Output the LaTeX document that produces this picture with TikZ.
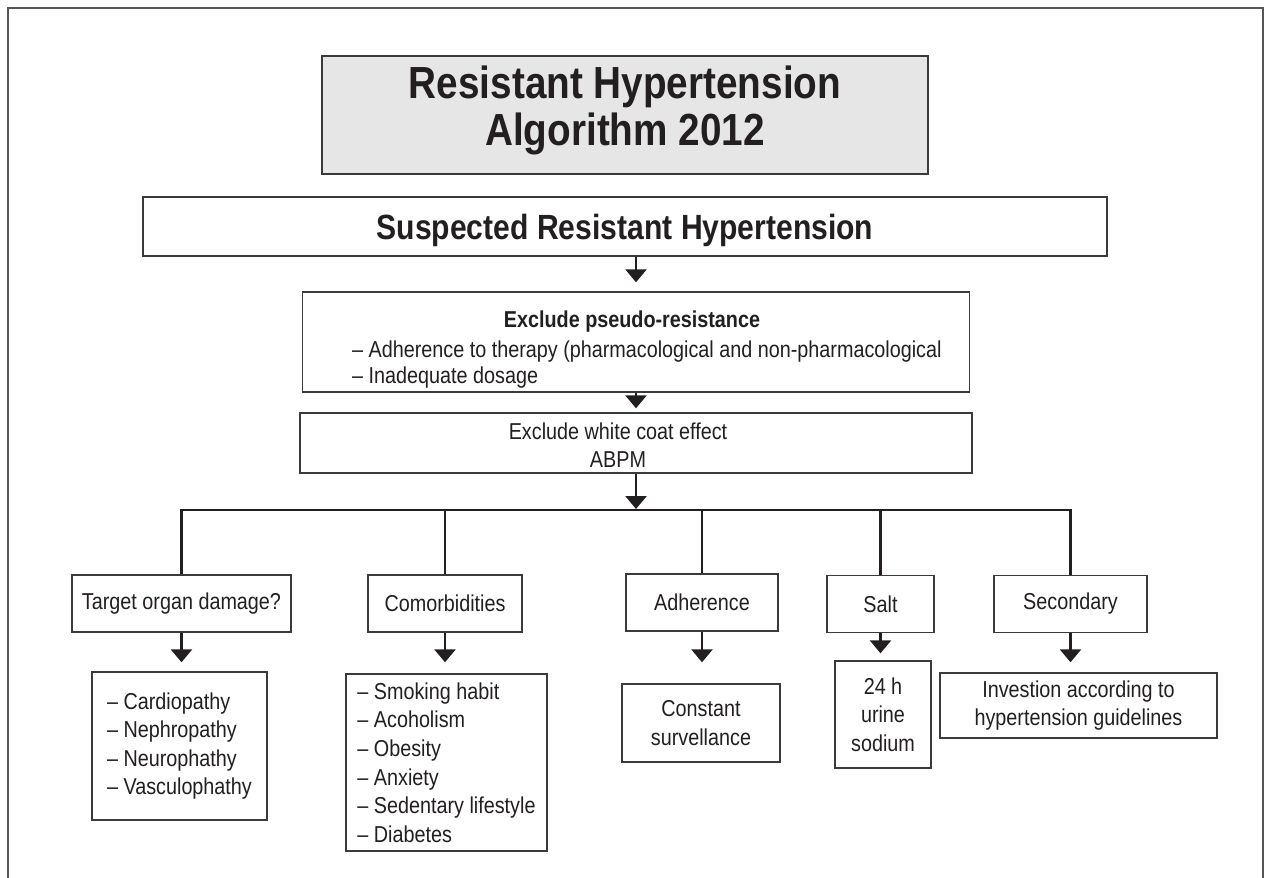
\documentclass[tikz,border=0pt]{standalone}
\usepackage{fontspec}
\setmainfont{Liberation Sans}[FakeStretch=0.86]
\usetikzlibrary{arrows.meta}
\definecolor{ink}{HTML}{231F20}
\definecolor{edge}{HTML}{3A3A3A}
\definecolor{framec}{HTML}{555555}
\definecolor{titlefill}{HTML}{E6E6E7}
\begin{document}
\begin{tikzpicture}[x=1pt,y=-1pt,
  box/.style={draw=edge, line width=1.4pt, inner sep=0pt, align=center, text=ink,
    font=\fontsize{23}{28.6}\selectfont},
  listbox/.style={box, align=left},
  txt/.style={inner sep=0pt, text=ink, font=\fontsize{23}{28.6}\selectfont},
  conn/.style={draw=ink, line width=2.7pt},
  arr/.style={conn, -{Triangle[width=21pt,length=13pt]}},
]
\useasboundingbox (0,0) rectangle (1269,878);
\fill[white] (0,0) rectangle (1269,878);
% outer frame (open at the bottom edge of the picture)
\draw[framec, line width=1.3pt] (8,878) -- (8,8) -- (1263,8) -- (1263,878);

% header boxes
\node[box, fill=titlefill, minimum width=606pt, minimum height=118pt,
      font=\bfseries\fontsize{45}{47}\selectfont] (title) at (625,115)
      {Resistant Hypertension\\Algorithm 2012\\[-29pt]\mbox{}};
\node[box, minimum width=964pt, minimum height=59pt, text depth=0pt,
      font=\bfseries\fontsize{35}{40}\selectfont] (susp) at (625,226.5)
      {Suspected Resistant Hypertension};

% pseudo-resistance box
\node[box, minimum width=667pt, minimum height=100pt] (pseudo) at (636,342) {};
\node[txt, font=\bfseries\fontsize{23}{28}\selectfont] (pseudoT) at (632,322) {Exclude pseudo-resistance};
\node[txt, anchor=west] (pseudoA) at (352,352) {– Adherence to therapy (pharmacological and non-pharmacological};
\node[txt, anchor=west] (pseudoB) at (352,378) {– Inadequate dosage};

% white coat box
\node[box, minimum width=672pt, minimum height=60pt] (wc) at (636,443) {};
\node[txt, align=center] (wcT) at (618,445) {Exclude white coat effect\\ABPM};

% connectors top part
\draw[arr, shorten >=9pt] (susp.south -| pseudo.north) -- (pseudo.north);
\draw[arr, shorten >=4pt] (pseudo.south) -- (wc.north);

% branch row
\node[box, minimum width=219pt, minimum height=57pt] (tod)  at (181.5,603.5) {Target organ damage?};
\node[box, minimum width=154pt, minimum height=57pt] (com)  at (445,603.5) {Comorbidities};
\node[box, minimum width=152pt, minimum height=57pt] (adh)  at (702,602.5) {Adherence};
\node[box, minimum width=107pt, minimum height=57pt] (salt) at (880.5,604) {Salt};
\node[box, minimum width=153pt, minimum height=57pt] (sec)  at (1070.5,604) {Secondary};

\coordinate (bC) at (636,510);
\draw[arr, shorten >=1pt] (wc.south) -- (bC);
\draw[conn] (tod.north) |- (bC) -| (sec.north);
\draw[conn] (com.north) -- (com.north |- bC);
\draw[conn] (adh.north) -- (adh.north |- bC);
\draw[conn] (salt.north) -- (salt.north |- bC);

% lower boxes
\node[listbox, minimum width=175pt, minimum height=148pt] (card) at (179.5,746)
  {– Cardiopathy\\– Nephropathy\\– Neurophathy\\– Vasculophathy};
\node[listbox, minimum width=201pt, minimum height=177pt] (coml) at (446.5,762.5)
  {– Smoking habit\\– Acoholism\\– Obesity\\– Anxiety\\– Sedentary lifestyle\\– Diabetes};
\node[box, minimum width=158pt, minimum height=78pt] (const) at (701,723)
  {Constant\\survellance};
\node[box, minimum width=96pt, minimum height=107pt] (urine) at (883,714.5)
  {24 h\\urine\\sodium};
\node[box, minimum width=277pt, minimum height=65pt] (invest) at (1078.5,705.5)
  {Investion according to\\hypertension guidelines};

\draw[arr, shorten >=9pt]  (tod.south)  -- (tod.south |- card.north);
\draw[arr, shorten >=11pt] (com.south)  -- (com.south |- coml.north);
\draw[arr, shorten >=21pt] (adh.south)  -- (adh.south |- const.north);
\draw[arr, shorten >=7pt]  (salt.south) -- (salt.south |- urine.north);
\draw[arr, shorten >=10pt] (sec.south)  -- (sec.south |- invest.north);
\end{tikzpicture}
\end{document}
